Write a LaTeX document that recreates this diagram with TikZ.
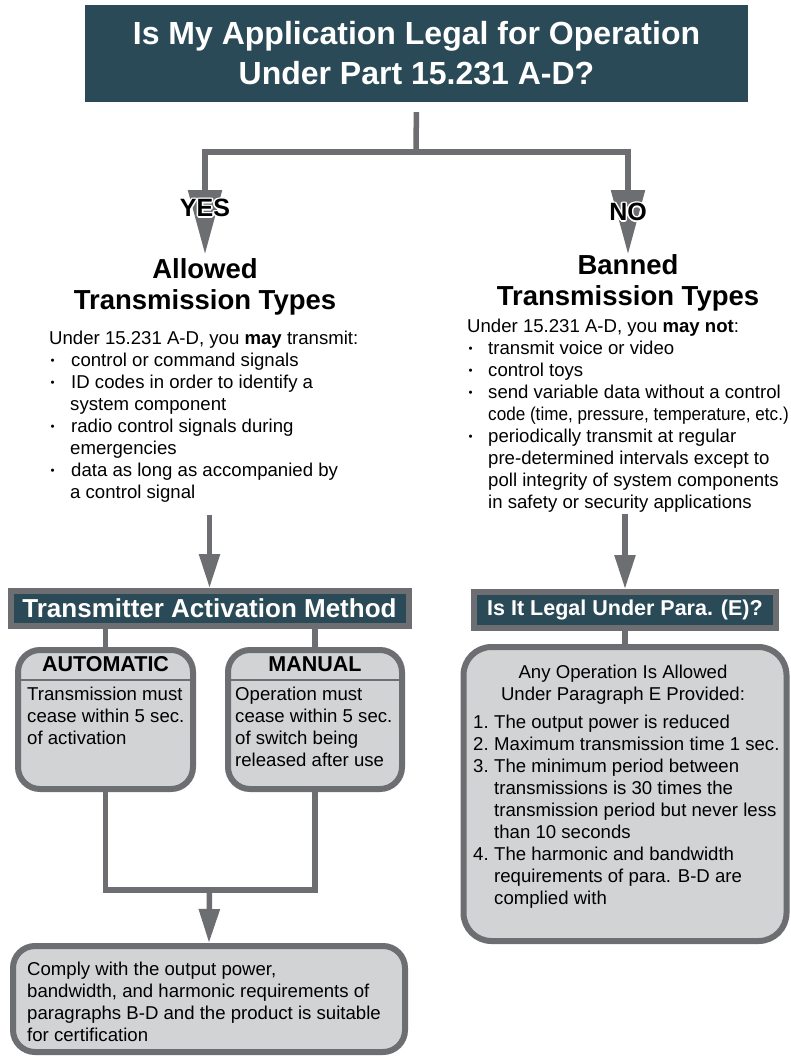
\documentclass[tikz,border=0pt]{standalone}
\usepackage{fontspec}
\setmainfont{Liberation Sans}
\usetikzlibrary{arrows.meta,calc}
\definecolor{darkteal}{HTML}{2B4A57}
\definecolor{linegray}{HTML}{6D6E71}
\definecolor{boxgray}{HTML}{D1D3D4}
\newcommand\fs[2]{\fontsize{#1}{#2}\selectfont}
\newcommand\bul[1]{\makebox[#1][l]{\hspace*{1.5pt}\raisebox{1.5pt}{\fs{11.5}{11.5}\char"2022}}}
\newcommand\halo[1]{\rlap{\kern-1.6pt\textcolor{white}{#1}}\rlap{\kern1.6pt\textcolor{white}{#1}}\rlap{\raise1.6pt\hbox{\textcolor{white}{#1}}}\rlap{\lower1.6pt\hbox{\textcolor{white}{#1}}}\rlap{\kern1.1pt\raise1.1pt\hbox{\textcolor{white}{#1}}}\rlap{\kern-1.1pt\raise1.1pt\hbox{\textcolor{white}{#1}}}\rlap{\kern1.1pt\lower1.1pt\hbox{\textcolor{white}{#1}}}\rlap{\kern-1.1pt\lower1.1pt\hbox{\textcolor{white}{#1}}}#1}
\begin{document}
\begin{tikzpicture}[x=1pt,y=-1pt,line join=miter,
  conn/.style={draw=linegray,line width=5.5pt},
  bigarrow/.style={conn,-{Triangle[width=33pt,length=64pt]}},
  smallarrow/.style={conn,-{Triangle[width=20pt,length=34pt]}},
  titlebox/.style={fill=darkteal,text=white,font=\fs{32}{40}\bfseries,align=center,inner sep=0pt},
  headbox/.style={fill=darkteal,draw=linegray,line width=6pt,text=white,inner sep=0pt},
  grbox/.style={fill=boxgray,draw=linegray,line width=6pt,inner sep=0pt},
  headtext/.style={font=\fs{27.5}{31}\bfseries,align=center,inner sep=0pt},
  bodytext/.style={font=\fs{18.6}{22},align=left,inner sep=0pt},
  boxhdr/.style={font=\fs{21.5}{21.5}\bfseries,anchor=base,inner sep=0pt},
  yesno/.style={font=\fs{25}{25}\bfseries,inner sep=0pt},
  sep/.style={draw=linegray,line width=2.5pt}]

\useasboundingbox (0,0) rectangle (791,1057);
\fill[white] (0,0) rectangle (791,1057);

% title
\node[titlebox,minimum width=663pt,minimum height=97pt] (title) at (416.5,53.5) {Is My Application Legal for Operation\\Under Part 15.231 A-D?};
\coordinate (fork) at (416,152);
\draw[conn,shorten <=10pt] (title.south) -- (fork);

% headings
\node[headtext,anchor=north] (allowedhead) at (205,258) {Allowed\\Transmission Types};
\node[headtext,anchor=north] (bannedhead) at (628,254) {Banned\\Transmission Types};
\draw[bigarrow,shorten >=4pt] (fork) -| (allowedhead.north);
\draw[bigarrow] (fork) -| (bannedhead.north);
\node[yesno] (yes) at (205,208) {\halo{YES}};
\node[yesno] (no) at (628,212) {\halo{NO}};

% lists
\node[bodytext,anchor=north west] (allowedlist) at (49,328.6) {\strut Under 15.231 A-D, you \textbf{may} transmit:\\
\bul{22pt}control or command signals\\
\bul{22pt}ID codes in order to identify a\\
\hspace*{21pt}system component\\
\bul{22pt}radio control signals during\\
\hspace*{21pt}emergencies\\
\bul{22pt}data as long as accompanied by\\
\hspace*{21pt}a control signal};

\node[bodytext,anchor=north west] (bannedlist) at (467,316.6) {\strut Under 15.231 A-D, you \textbf{may not}:\\
\bul{21pt}transmit voice or video\\
\bul{21pt}control toys\\
\bul{21pt}send variable data without a control\\
\hspace*{21pt}\scalebox{0.92}[1]{code (time, pressure, temperature, etc.)}\\
\bul{21pt}periodically transmit at regular\\
\hspace*{21pt}pre-determined intervals except to\\
\hspace*{21pt}poll integrity of system components\\
\hspace*{21pt}in safety or security applications};

% left branch
\node[headbox,minimum width=398pt,minimum height=35pt,font=\fs{26}{26}\bfseries] (tam) at (209.5,608.5) {Transmitter Activation Method};
\draw[smallarrow,shorten <=13pt] (allowedlist.south -| tam.north) -- (tam.north);

\node[grbox,rounded corners=22pt,minimum width=175pt,minimum height=139pt] (auto) at (105.5,719.5) {};
\node[grbox,rounded corners=22pt,minimum width=174pt,minimum height=139pt] (manual) at (315,719.5) {};
\draw[conn] (tam.south -| auto.north) -- (auto.north);
\draw[conn] (tam.south -| manual.north) -- (manual.north);
\coordinate (sepline) at (210,680);
\draw[sep] (auto.west |- sepline) -- (auto.east |- sepline);
\draw[sep] (manual.west |- sepline) -- (manual.east |- sepline);
\node[boxhdr] (autohdr) at (105.5,671) {AUTOMATIC};
\node[boxhdr] (manualhdr) at (315,671) {MANUAL};
\node[bodytext,anchor=north west] (autobody) at (27,684.6) {\strut Transmission must\\cease within 5 sec.\\of activation};
\node[bodytext,anchor=north west] (manualbody) at (235,684.6) {\strut Operation must\\cease within 5 sec.\\of switch being\\released after use};

\coordinate (merge) at (209.5,890);
\draw[conn] (auto.south) |- (merge) -| (manual.south);
\node[grbox,rounded corners=22pt,minimum width=392pt,minimum height=106pt] (final) at (209,999) {};
\draw[smallarrow] (merge) -- (final.north);
\node[bodytext,anchor=north west] (finaltext) at (27,959.6) {\strut Comply with the output power,\\bandwidth, and harmonic requirements of\\paragraphs B-D and the product is suitable\\for certification};

% right branch
\node[headbox,minimum width=302pt,minimum height=36pt,font=\fs{21.5}{21.5}\bfseries] (legal) at (625,610) {Is It Legal Under Para. (E)?};
\draw[smallarrow,shorten <=2pt] (bannedlist.south -| legal.north) -- (legal.north);
\node[grbox,rounded corners=28pt,minimum width=323pt,minimum height=294pt] (para) at (625,794) {};
\draw[conn] (legal.south) -- (para.north);
\node[bodytext,align=center,anchor=north] (paraintro) at (623,662.6) {\strut Any Operation Is Allowed\\Under Paragraph E Provided:};
\node[bodytext,anchor=north west] (paralist) at (473,712.6) {\strut\makebox[21pt][l]{1.}The output power is reduced\\
\makebox[21pt][l]{2.}Maximum transmission time 1 sec.\\
\makebox[21pt][l]{3.}The minimum period between\\
\hspace*{21pt}transmissions is 30 times the\\
\hspace*{21pt}transmission period but never less\\
\hspace*{21pt}than 10 seconds\\
\makebox[21pt][l]{4.}The harmonic and bandwidth\\
\hspace*{21pt}requirements of para. B-D are\\
\hspace*{21pt}complied with};
\end{tikzpicture}
\end{document}
